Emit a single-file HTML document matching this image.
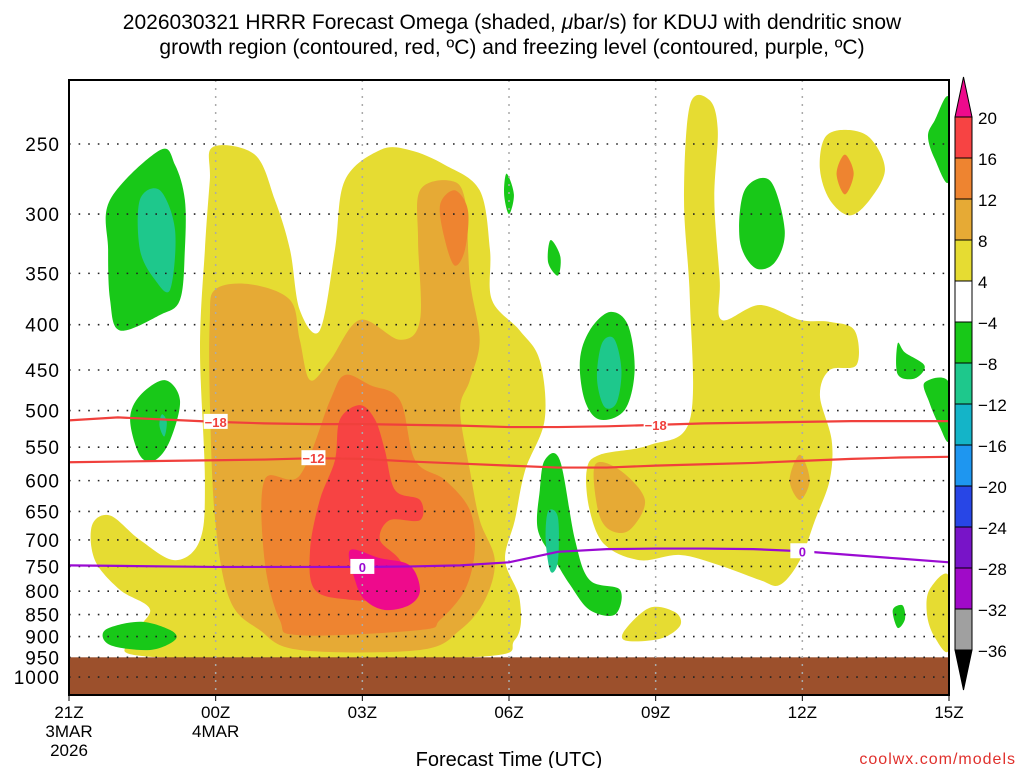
<!DOCTYPE html>
<html><head><meta charset="utf-8"><style>
body{margin:0;background:#fff;}
svg{display:block;font-family:"Liberation Sans",sans-serif;}
</style></head><body>
<svg id="chart" width="1024" height="768" viewBox="0 0 1024 768">
<text x="512" y="29" text-anchor="middle" font-size="21">2026030321 HRRR Forecast Omega (shaded, <tspan font-style="italic">μ</tspan>bar/s) for KDUJ with dendritic snow</text>
<text x="512" y="54" text-anchor="middle" font-size="21">growth region (contoured, red, ºC) and freezing level (contoured, purple, ºC)</text>
<g id="plot"></g>
<g id="axes"></g>
<g id="cbar"></g>
<text x="509" y="766" text-anchor="middle" font-size="20">Forecast Time (UTC)</text>
<text x="1016" y="764" text-anchor="end" font-size="16" fill="#e0302c" letter-spacing="1">coolwx.com/models</text>
</svg>
<script>
// ---- data ----
const xTickLabels = ["21Z","00Z","03Z","06Z","09Z","12Z","15Z"];
const xTickHours = [0,3,6,9,12,15,18];
const xDateLabels = [["3MAR","2026"],["4MAR"],[],[],[],[],[]];
const yTicks = [250,300,350,400,450,500,550,600,650,700,750,800,850,900,950,1000];
const cbarLabels = ["20","16","12","8","4","−4","−8","−12","−16","−20","−24","−28","−32","−36"];
const cbarColors = ["#f74343","#ee8430","#e6aa35","#e6dc32","#ffffff","#18c818","#1ec88c","#14b4c8","#1e96f0","#2846e6","#7814c8","#a00ac8","#a0a0a0"];
const lineHours = [0,1,2,3,4,5,6,7,8,9,10,11,12,13,14,15,16,17,18];
const iso18 = [513,509,512,515,517,518,518,519,520,522,522,521,519,517,516,515,514,514,514];
const iso12 = [572,571,570,569,568,566,567,571,574,577,580,580,577,575,573,570,567,565,564];
const iso0  = [748,749,750,751,751,751,751,750,748,742,722,717,716,716,717,721,728,735,742];
const COL = {y:"#e6dc32",lo:"#e6aa35",o:"#ee8430",r:"#f74343",m:"#ee0a8c",g:"#18c818",t:"#1ec88c"};
const regions = [
 ["yellow-main","y",[[2.94,252],[3.8,257],[4.21,289],[4.52,329],[4.72,385],[5.13,406],[5.44,329],[5.64,275],[6.36,254],[6.97,254],[7.69,264],[8.4,282],[8.61,329],[8.65,375],[9.22,406],[9.63,439],[9.73,512],[9.33,584],[9.12,665],[8.92,738],[9.22,818],[9.12,908],[8.2,950],[1.86,950],[1.25,908],[1.66,840],[1.04,797],[0.53,738],[0.47,674],[0.84,657],[1.45,700],[2.17,738],[2.68,700],[2.78,599],[2.68,427],[2.78,329],[2.88,275]]],
 ["yellow-right","y",[[12.7,226],[13.1,223],[13.27,241],[13.2,289],[13.31,356],[13.35,395],[14.13,380],[14.95,395],[15.56,397],[16.07,406],[16.11,444],[15.56,450],[15.36,481],[15.6,540],[15.56,599],[15.26,665],[14.95,738],[14.54,787],[14.13,777],[13.31,748],[12.5,728],[11.68,738],[10.96,709],[10.65,648],[10.59,584],[10.86,561],[11.88,547],[12.7,512],[12.7,375],[12.58,289]]],
 ["yellow-top-right","y",[[15.87,241],[16.38,246],[16.69,267],[16.38,289],[15.97,301],[15.56,289],[15.36,267],[15.46,246]]],
 ["yellow-bottom-mid","y",[[11.37,885],[11.88,835],[12.4,845],[12.5,875],[12.1,905],[11.4,910]]],
 ["yellow-bottom-right","y",[[17.6,797],[18,770],[18,930],[17.7,900],[17.55,850]]],
 ["orange-light-main","lo",[[2.99,365],[3.7,360],[4.52,375],[4.72,416],[4.93,462],[5.34,439],[5.95,395],[6.77,416],[7.18,395],[7.14,321],[7.18,282],[7.79,275],[8.1,289],[8.2,356],[8.4,416],[8.2,462],[8.0,499],[8.2,584],[8.4,665],[8.71,738],[8.51,818],[8.0,885],[7.18,932],[4.72,932],[3.9,885],[3.29,818],[2.99,665],[2.88,487],[2.88,395]]],
 ["orange-light-right","lo",[[10.76,576],[11.27,584],[11.78,631],[11.47,682],[11.06,682],[10.82,648]]],
 ["orange-light-right2","lo",[[14.95,561],[15.15,599],[14.95,631],[14.74,599]]],
 ["orange-top-right","o",[[15.87,257],[16.05,270],[15.87,285],[15.7,270]]],
 ["orange-main","o",[[4.0,599],[4.72,592],[5.34,487],[5.64,456],[6.16,468],[6.77,487],[7.08,569],[7.69,599],[8.2,648],[8.3,719],[8.1,797],[7.59,862],[7.18,885],[4.72,897],[4.31,862],[4.0,738]]],
 ["orange-top","o",[[7.89,282],[8.16,297],[8.1,329],[7.89,343],[7.69,321],[7.59,293]]],
 ["red-main","r",[[5.54,512],[5.95,493],[6.26,512],[6.46,554],[6.67,615],[7.18,631],[7.18,665],[6.56,665],[6.36,700],[6.77,738],[6.97,797],[6.67,818],[5.75,818],[5.03,797],[4.93,719],[5.13,631],[5.44,569]]],
 ["magenta-core","m",[[5.75,719],[6.36,734],[6.97,748],[7.18,797],[6.97,829],[6.46,840],[6.05,818],[5.85,777]]],
 ["green-upper-left","g",[[0.84,289],[1.86,254],[2.17,264],[2.37,289],[2.37,329],[2.27,375],[1.86,390],[1.04,406],[0.84,375],[0.8,329]]],
 ["teal-upper-left","t",[[1.45,289],[1.86,282],[2.17,313],[2.07,365],[1.76,356],[1.45,329]]],
 ["green-mid-left","g",[[1.45,481],[1.96,462],[2.27,487],[2.07,540],[1.76,569],[1.45,562],[1.25,512]]],
 ["teal-mid-left","t",[[1.9,505],[2.0,515],[1.95,535],[1.85,520]]],
 ["green-bottom-left","g",[[0.74,885],[1.45,866],[2.07,885],[2.17,908],[1.66,932],[0.84,920]]],
 ["green-small-1","g",[[8.95,270],[9.1,285],[9.0,300],[8.9,285]]],
 ["green-small-2","g",[[9.85,321],[10.05,335],[10.0,352],[9.8,340]]],
 ["green-mid","g",[[10.65,406],[11.06,387],[11.43,400],[11.57,450],[11.37,499],[10.86,512],[10.55,487],[10.45,439]]],
 ["teal-mid","t",[[10.9,420],[11.15,415],[11.3,450],[11.2,490],[10.95,495],[10.8,460]]],
 ["green-upper-right","g",[[13.82,282],[14.34,275],[14.64,313],[14.44,340],[14.03,345],[13.72,321]]],
 ["green-top-edge","g",[[17.71,235],[18,222],[18,275],[17.71,260],[17.57,245]]],
 ["green-right-1","g",[[16.95,420],[17.1,430],[17.5,445],[17.3,460],[16.95,455]]],
 ["green-right-2","g",[[17.5,465],[18,465],[18,540],[17.8,520],[17.6,490]]],
 ["green-right-3","g",[[16.85,840],[17.05,830],[17.1,860],[16.95,880]]],
 ["green-lower-mid","g",[[9.73,569],[10.04,569],[10.35,700],[10.65,777],[11.27,797],[11.17,850],[10.65,840],[10.25,787],[9.94,738],[9.59,682],[9.63,615]]],
 ["teal-lower-mid","t",[[9.8,650],[10.0,660],[10.0,740],[9.85,760],[9.75,700]]]
];
// ---- axes ----
const X0=69,X1=949,Y0=80,Y1=695;
const xs=h=>X0+h*(X1-X0)/18;
const ys=p=>144+384.5*Math.log(p/250);
const NS="http://www.w3.org/2000/svg";
function mk(tag,attrs,parent){const e=document.createElementNS(NS,tag);for(const k in attrs)e.setAttribute(k,attrs[k]);parent.appendChild(e);return e;}
function smooth(pts){
 const n=pts.length;let d=`M${pts[0][0]},${pts[0][1]}`;
 for(let i=0;i<n;i++){const p0=pts[(i-1+n)%n],p1=pts[i],p2=pts[(i+1)%n],p3=pts[(i+2)%n];
  const c1=[p1[0]+(p2[0]-p0[0])/6,p1[1]+(p2[1]-p0[1])/6],c2=[p2[0]-(p3[0]-p1[0])/6,p2[1]-(p3[1]-p1[1])/6];
  d+=`C${c1[0]},${c1[1]} ${c2[0]},${c2[1]} ${p2[0]},${p2[1]}`;}
 return d+"Z";}
const plot=document.getElementById('plot');
const clip=mk('clipPath',{id:'pc'},mk('defs',{},plot));mk('rect',{x:X0,y:Y0,width:X1-X0,height:Y1-Y0},clip);
const fg=mk('g',{'clip-path':'url(#pc)'},plot);
regions.forEach(r=>{
 const pts=r[2].map(q=>[xs(q[0]),ys(q[1])]);
 const e=mk('path',{d:smooth(pts),fill:COL[r[1]]},fg);
 
 
});
const gr=mk('rect',{x:X0,y:ys(950),width:X1-X0,height:Y1-ys(950),fill:"#9c502c"},fg);


// grid
yTicks.forEach(p=>{const e=mk('line',{x1:X0,x2:X1,y1:ys(p),y2:ys(p),stroke:"#222","stroke-width":1.6,"stroke-dasharray":"1.6 8"},plot);
 
 });
xTickHours.forEach(h=>{if(h>0&&h<18){const e=mk('line',{x1:xs(h),x2:xs(h),y1:Y0,y2:Y1,stroke:"#aaa","stroke-width":1.5,"stroke-dasharray":"2 6"},plot);
 
 }});
// isotherms
function iso(vals,color,name,labs,txt){
 const d=lineHours.map((h,i)=>(i?"L":"M")+xs(h)+","+ys(vals[i])).join("");
 const e=mk('path',{d:d,fill:"none",stroke:color,"stroke-width":2.2},plot);
 
 
 labs.forEach(h=>{const i=Math.round(h);const x=xs(h),y=ys(vals[i]);
  mk('rect',{x:x-12,y:y-8,width:24,height:15,fill:"#fff"},plot);
  const t=mk('text',{x:x,y:y+5,"text-anchor":"middle","font-size":13,"font-weight":"bold",fill:color},plot);t.textContent=txt;
  
  });
}
iso(iso18,"#f0403c","isotherm-minus18",[3,12],"−18");
iso(iso12,"#f0403c","isotherm-minus12",[5],"−12");
iso(iso0,"#9a0ad2","freezing-level",[6,15],"0");
mk('rect',{x:X0,y:Y0,width:X1-X0,height:Y1-Y0,fill:"none",stroke:"#000","stroke-width":2},plot);
// axis labels
const ax=document.getElementById('axes');
yTicks.forEach(p=>{const t=mk('text',{x:60,y:ys(p)+7,"text-anchor":"end","font-size":19,"letter-spacing":1},ax);t.textContent=p;
 
 });
xTickHours.forEach((h,i)=>{const x=xs(h);
 mk('line',{x1:x,x2:x,y1:Y1,y2:Y1+6,stroke:"#000"},ax);
 const t=mk('text',{x:x,y:718,"text-anchor":"middle","font-size":17},ax);t.textContent=xTickLabels[i];
 
 
 xDateLabels[i].forEach((s,j)=>{const u=mk('text',{x:x,y:737+j*19,"text-anchor":"middle","font-size":17},ax);u.textContent=s;
  
  });});
// colorbar
const cb=document.getElementById('cbar');const CX=955,CW=17,CT=117,CH=41;
mk('polygon',{points:`${CX},${CT} ${CX+CW},${CT} ${CX+CW/2},77`,fill:"#ee0a8c",stroke:"#000"},cb);
cbarColors.forEach((c,i)=>{const e=mk('rect',{x:CX,y:CT+i*CH,width:CW,height:CH,fill:c,stroke:"#000"},cb);
 
 });
const yb=CT+cbarColors.length*CH;
mk('polygon',{points:`${CX},${yb} ${CX+CW},${yb} ${CX+CW/2},${yb+40}`,fill:"#000",stroke:"#000"},cb);
cbarLabels.forEach((s,i)=>{const t=mk('text',{x:978,y:CT+i*CH+7,"font-size":17},cb);t.textContent=s;
 
 });
</script>
</body></html>
